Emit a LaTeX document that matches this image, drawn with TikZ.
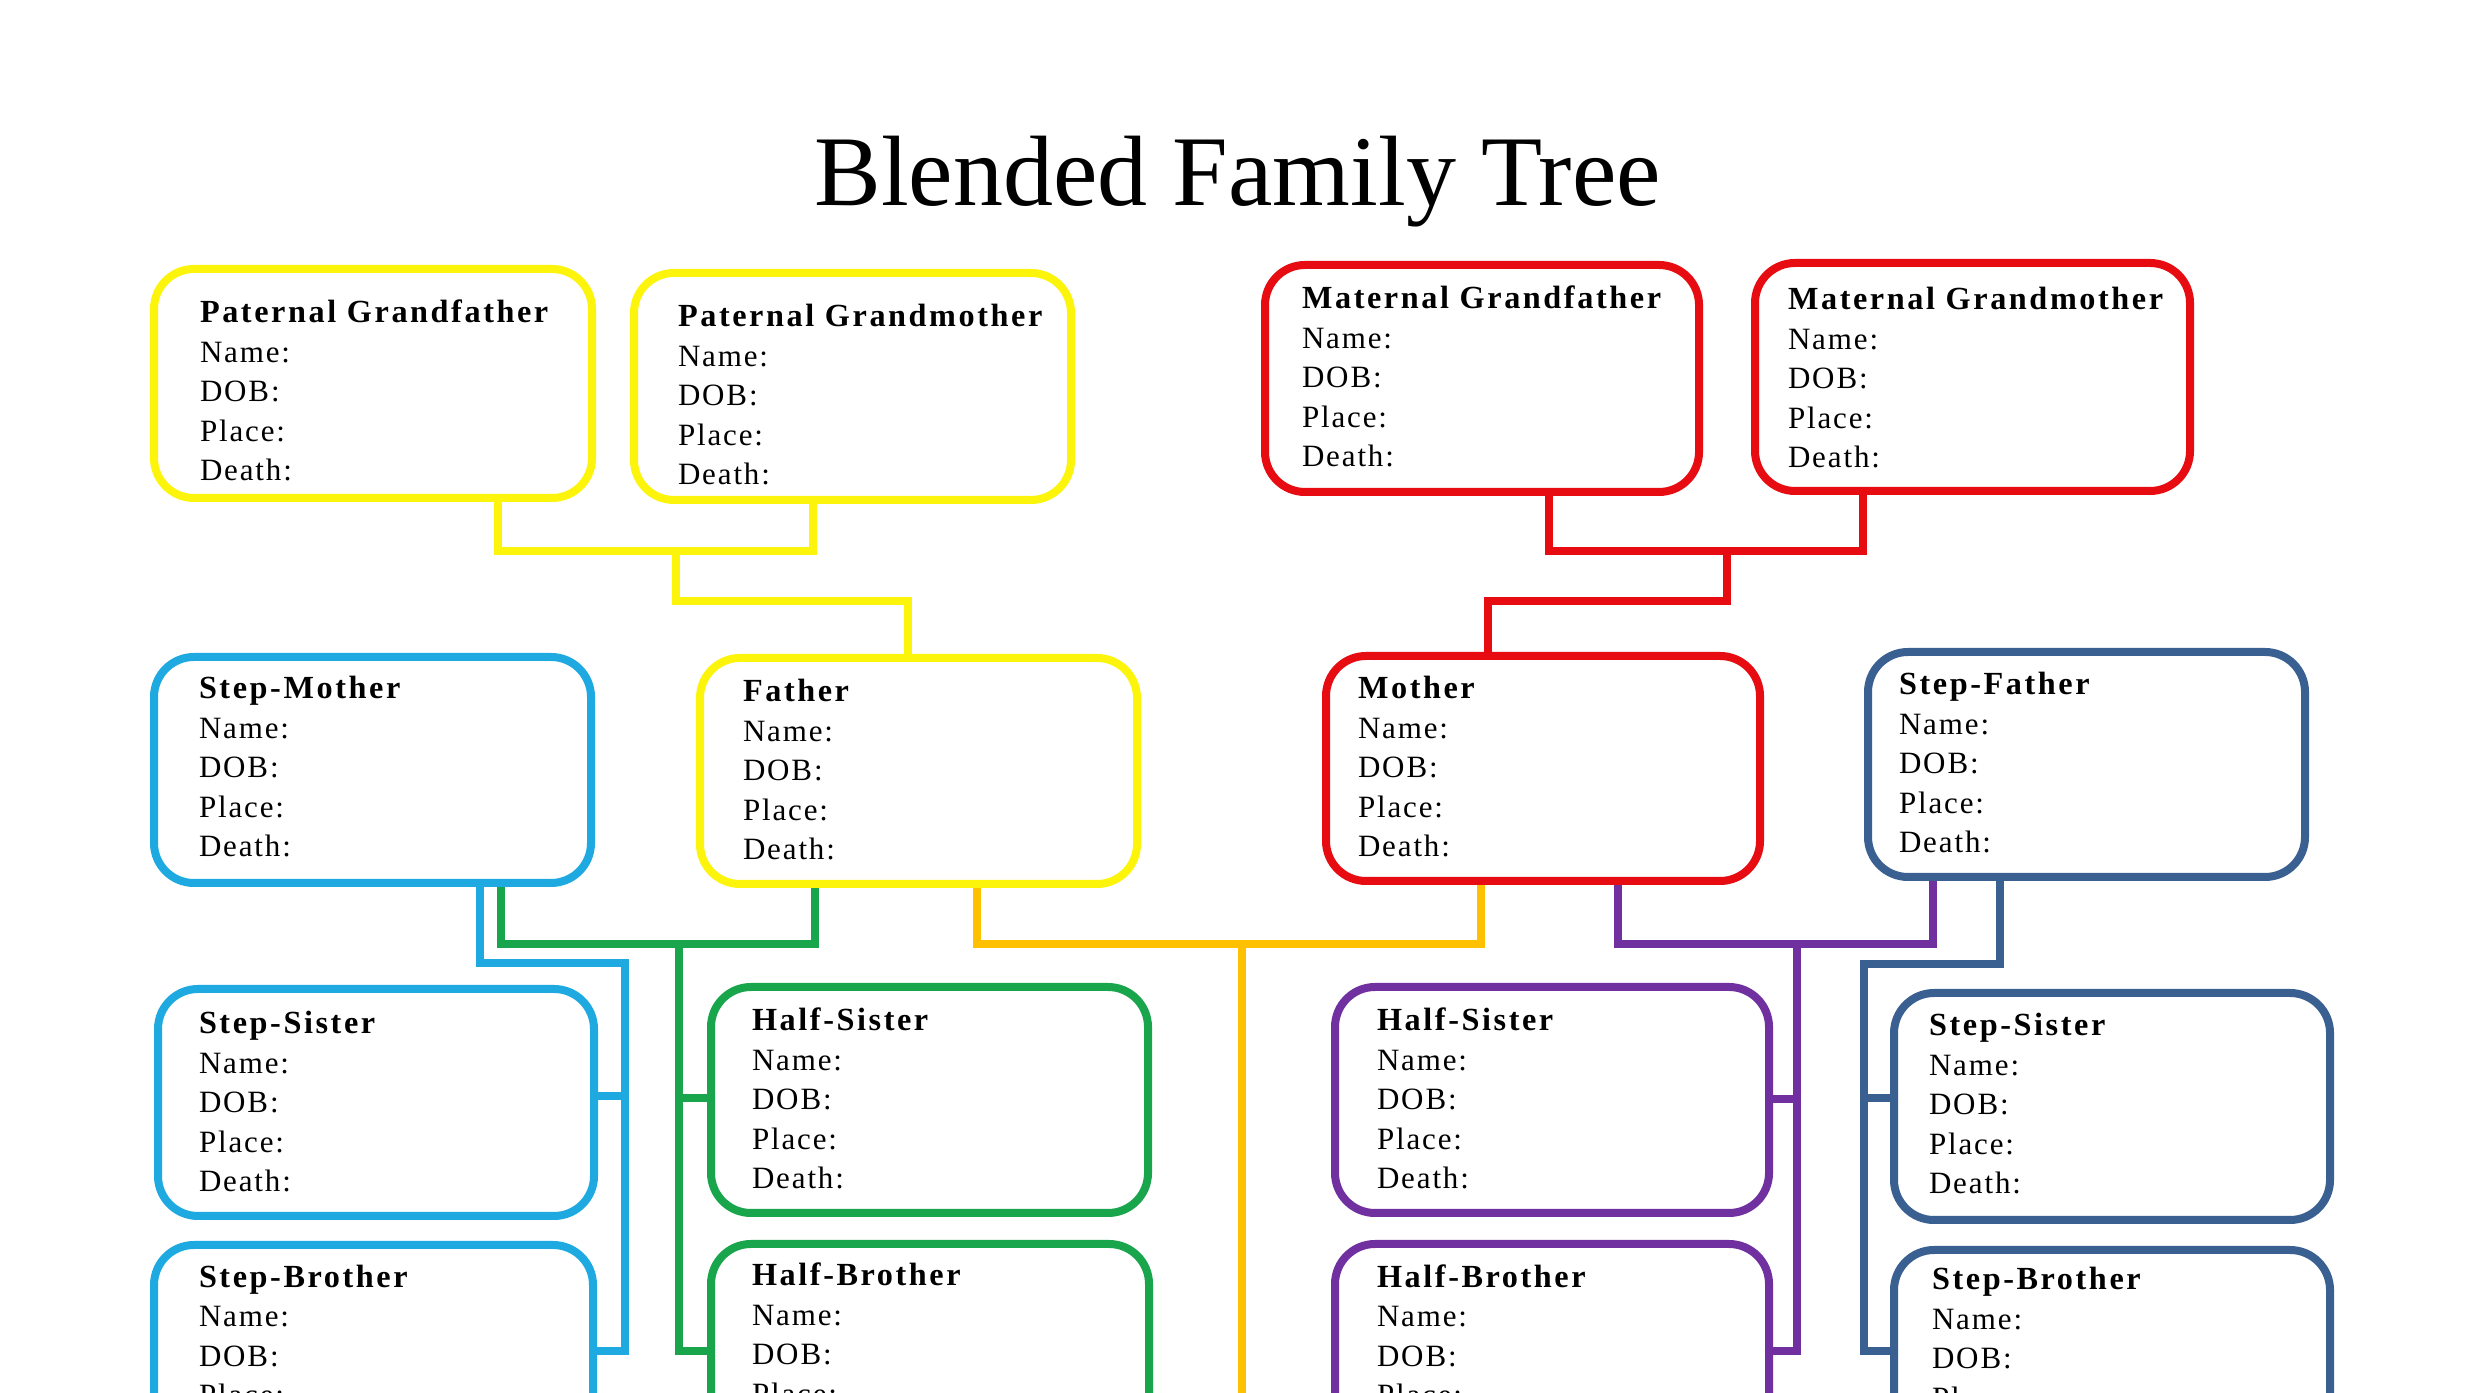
\documentclass[tikz,border=0pt]{standalone}
\usepackage{fontspec}
\setmainfont{Liberation Serif}
\newfontfamily\cardfont[LetterSpace=6]{Liberation Serif}
\newfontfamily\headfont[LetterSpace=8]{Liberation Serif}
\usetikzlibrary{calc}
\definecolor{ylw}{RGB}{252,244,10}
\definecolor{rd}{RGB}{230,12,18}
\definecolor{cyn}{RGB}{30,170,225}
\definecolor{grn}{RGB}{25,165,75}
\definecolor{org}{RGB}{255,192,0}
\definecolor{prp}{RGB}{112,48,160}
\definecolor{stl}{RGB}{58,96,145}
\pgfdeclarelayer{bg}
\pgfsetlayers{bg,main}
\tikzset{
  card/.style={line width=1.6pt, rounded corners=8pt, inner sep=0pt, outer sep=0pt},
  cardtext/.style={inner sep=0pt, outer sep=0pt, anchor=base west},
  link/.style={line width=1.6pt, line join=miter, draw=#1},
}
\newcommand{\famcard}[9]{%
  \node[card, draw=#2, minimum width={(#5-#3)*0.2pt}, minimum height={(#6-#4)*0.2pt}, anchor=north west] (#1) at (#3,#4) {};
  \node[cardtext] (#1-text) at (#7,#8) {\vtop{\baselineskip=7.9pt
      \hbox{\headfont\bfseries\fontsize{6.45pt}{7.9pt}\selectfont #9}
      \hbox{\cardfont\fontsize{6.2pt}{7.9pt}\selectfont Name:}
      \hbox{\cardfont\fontsize{6.2pt}{7.9pt}\selectfont DOB:}
      \hbox{\cardfont\fontsize{6.2pt}{7.9pt}\selectfont Place:}
      \hbox{\cardfont\fontsize{6.2pt}{7.9pt}\selectfont Death:}}};
}
\begin{document}
\begin{tikzpicture}[x=0.2pt,y=-0.2pt]
\useasboundingbox (0,0) rectangle (2475,1393);
\begin{pgfonlayer}{bg}
  \fill[white] (0,0) rectangle (2475,1393);
\end{pgfonlayer}
\clip (0,0) rectangle (2475,1393);

\node[anchor=base, inner sep=0pt, font=\fontsize{20pt}{24pt}\selectfont] (title) at (1237.5,206) {Blended Family Tree};

% grandparents
\famcard{pgf}{ylw}{154}{269}{592}{498}{200}{323}{Paternal Grandfather}
\famcard{pgm}{ylw}{634}{273}{1071}{500}{678}{327}{Paternal Grandmother}
\famcard{mgf}{rd}{1265}{265}{1699}{492}{1302}{309}{Maternal Grandfather}
\famcard{mgm}{rd}{1755}{263}{2190}{491}{1788}{310}{Maternal Grandmother}
% parents
\famcard{sm}{cyn}{154}{657}{591}{883}{199}{699}{Step-Mother}
\famcard{fa}{ylw}{700}{658}{1137}{884}{743}{702}{Father}
\famcard{mo}{rd}{1326}{656}{1760}{881}{1358}{699}{Mother}
\famcard{sf}{stl}{1868}{652}{2305}{877}{1899}{695}{Step-Father}
% siblings
\famcard{ss1}{cyn}{158}{989}{594}{1216}{199}{1034}{Step-Sister}
\famcard{hs1}{grn}{711}{987}{1148}{1213}{752}{1031}{Half-Sister}
\famcard{hs2}{prp}{1335}{987}{1769}{1213}{1377}{1031}{Half-Sister}
\famcard{ss2}{stl}{1894}{993}{2330}{1220}{1929}{1036}{Step-Sister}
\famcard{sb1}{cyn}{154}{1245}{593}{1480}{199}{1287}{Step-Brother}
\famcard{hb1}{grn}{711}{1244}{1149}{1480}{752}{1286}{Half-Brother}
\famcard{hb2}{prp}{1335}{1244}{1769}{1480}{1377}{1287}{Half-Brother}
\famcard{sb2}{stl}{1894}{1250}{2330}{1485}{1932}{1290}{Step-Brother}

% junction coordinates
\coordinate (yA) at (498,551); \coordinate (yB) at (813,551);
\coordinate (yM) at (676,551); \coordinate (yD) at (908,601);
\coordinate (rA) at (1549,551); \coordinate (rB) at (1863,551);
\coordinate (rM) at (1727,551); \coordinate (rD) at (1488,601);
\coordinate (gA) at (501,944); \coordinate (gB) at (815,944);
\coordinate (gM) at (679,944); \coordinate (gS) at (679,1098); \coordinate (gE) at (679,1351);
\coordinate (cA) at (480,963); \coordinate (cB) at (625,963);
\coordinate (cS) at (625,1096); \coordinate (cE) at (625,1351);
\coordinate (oA) at (977,944); \coordinate (oB) at (1481,944);
\coordinate (oM) at (1242,944); \coordinate (oE) at (1242,1393);
\coordinate (pA) at (1618,944); \coordinate (pB) at (1933,944);
\coordinate (pM) at (1797,944); \coordinate (pS) at (1797,1099); \coordinate (pE) at (1797,1351);
\coordinate (bA) at (2000,964); \coordinate (bB) at (1864,964);
\coordinate (bS) at (1864,1098); \coordinate (bE) at (1864,1351);

\begin{pgfonlayer}{bg}
  % paternal grandparents -> father
  \draw[link=ylw] (pgf.south -| yA) -- (yA) -- (yB) -- (pgm.south -| yB);
  \draw[link=ylw] (yM) |- (yD) -- (fa.north -| yD);
  % maternal grandparents -> mother
  \draw[link=rd] (mgf.south -| rA) -- (rA) -- (rB) -- (mgm.south -| rB);
  \draw[link=rd] (rM) |- (rD) -- (mo.north -| rD);
  % step-mother + father -> half siblings
  \draw[link=grn] (sm.south -| gA) -- (gA) -- (gB) -- (fa.south -| gB);
  \draw[link=grn] (gM) -- (gE) -- (hb1.west |- gE);
  \draw[link=grn] (gS) -- (hs1.west |- gS);
  % step-mother -> step siblings
  \draw[link=cyn] (sm.south -| cA) -- (cA) -- (cB) -- (cE) -- (sb1.east |- cE);
  \draw[link=cyn] (cS) -- (ss1.east |- cS);
  % father + mother
  \draw[link=org] (fa.south -| oA) -- (oA) -- (oB) -- (mo.south -| oB);
  \draw[link=org] (oM) -- (oE);
  % mother + step-father -> half siblings
  \draw[link=prp] (mo.south -| pA) -- (pA) -- (pB) -- (sf.south -| pB);
  \draw[link=prp] (pM) -- (pE) -- (hb2.east |- pE);
  \draw[link=prp] (pS) -- (hs2.east |- pS);
  % step-father -> step siblings
  \draw[link=stl] (sf.south -| bA) -- (bA) -- (bB) -- (bE) -- (sb2.west |- bE);
  \draw[link=stl] (bS) -- (ss2.west |- bS);
\end{pgfonlayer}
\end{tikzpicture}
\end{document}
